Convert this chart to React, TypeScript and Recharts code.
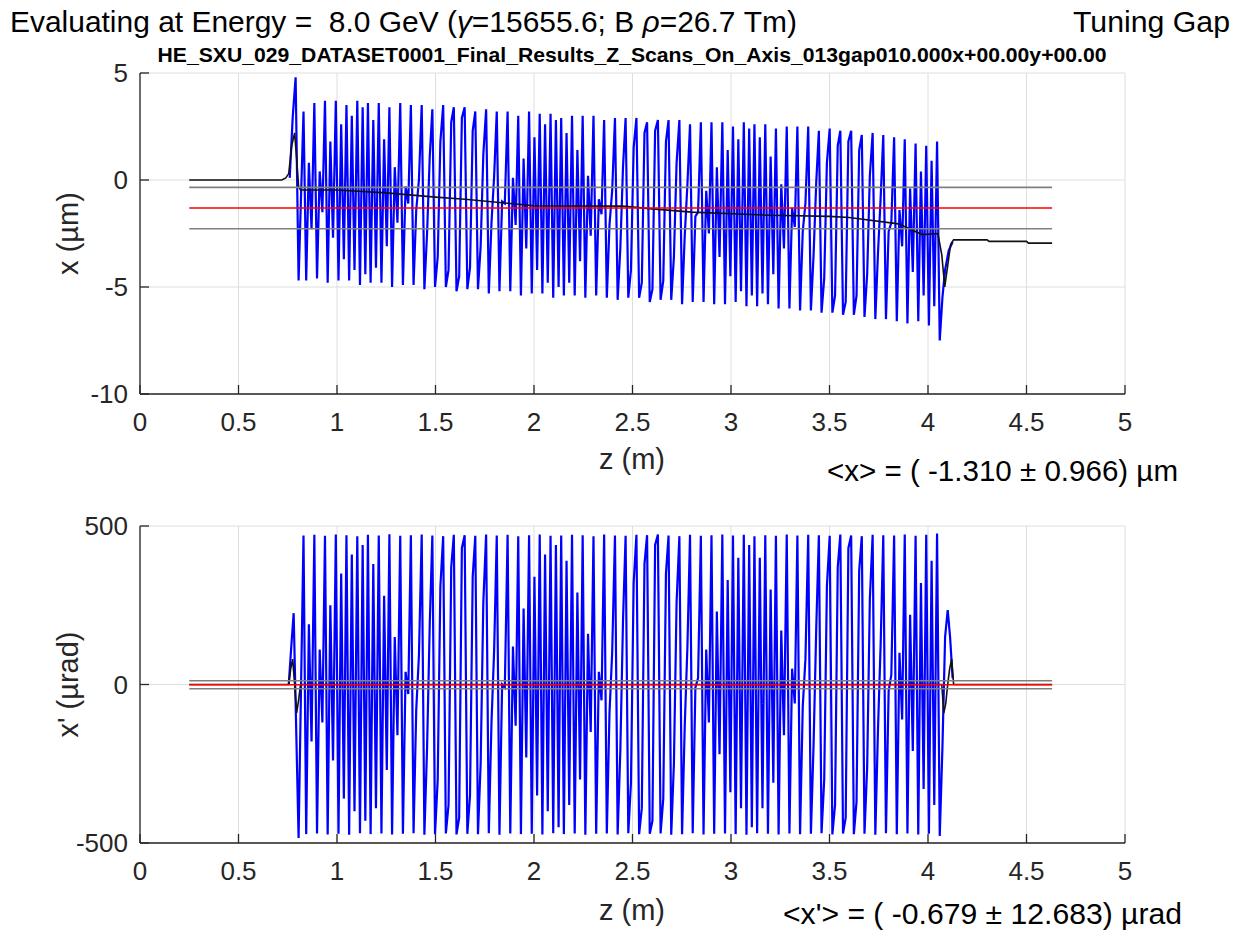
import { LineChart, Line, XAxis, YAxis, CartesianGrid } from 'recharts'

// axis ticks
const zTicks = [0, 0.5, 1, 1.5, 2, 2.5, 3, 3.5, 4, 4.5, 5]
const xTicks = [-10, -5, 0, 5]
const xpTicks = [-500, 0, 500]

// scan: one crest per period, then 3 more samples (trough, two aliased samples) spaced by the scan step
const scanStep = 0.0136
const zCrest = [
  0.83, 0.885, 0.939, 0.994, 1.048, 1.103, 1.157, 1.212, 1.266, 1.321, 1.375, 1.43, 1.484, 1.539, 1.593,
  1.648, 1.702, 1.757, 1.811, 1.866, 1.92, 1.975, 2.029, 2.084, 2.138, 2.193, 2.247, 2.302, 2.356, 2.411,
  2.465, 2.52, 2.574, 2.629, 2.683, 2.738, 2.792, 2.847, 2.901, 2.956, 3.01, 3.065, 3.119, 3.174, 3.228,
  3.283, 3.337, 3.392, 3.446, 3.501, 3.555, 3.61, 3.664, 3.719, 3.773, 3.828, 3.882, 3.937, 3.991, 4.046,
]

// x (um)
const xCrest = [
  3.2, 3.6, 3.7, 3.7, 3.5, 3.7, 3.6, 3.6, 3.4, 3.6, 3.5, 3.5, 3.3, 3.5, 3.4, 3.4, 3.2, 3.3, 3.2, 3.2,
  3.0, 3.2, 3.1, 3.1, 2.9, 3.0, 3.0, 3.0, 2.8, 2.9, 2.9, 2.9, 2.7, 2.8, 2.8, 2.8, 2.6, 2.7, 2.7, 2.7,
  2.5, 2.7, 2.6, 2.6, 2.4, 2.5, 2.5, 2.5, 2.3, 2.4, 2.3, 2.3, 2.1, 2.2, 2.1, 2.0, 1.9, 1.7, 1.6, 1.8,
]
const xTrough = [
  -4.7, -4.6, -4.8, -4.7, -4.7, -4.9, -4.8, -4.8, -5.0, -4.9, -4.9, -5.1, -5.0, -5.0, -5.2, -5.1, -5.1, -5.3, -5.2, -5.2,
  -5.4, -5.3, -5.3, -5.5, -5.4, -5.4, -5.5, -5.4, -5.5, -5.6, -5.5, -5.5, -5.7, -5.6, -5.6, -5.8, -5.7, -5.7, -5.8, -5.8,
  -5.7, -5.9, -5.9, -5.8, -6.0, -6.0, -6.1, -6.1, -6.2, -6.2, -6.3, -6.3, -6.4, -6.5, -6.5, -6.6, -6.7, -6.6, -6.8, -7.5,
]
const xAliasA = [
  0.8, 0.4, 1.8, 2.6, 3.0, 3.4, 2.8, 1.9, 0.6, -0.3, -1.4, -2.5, -3.6, -4.2, -4.5, -4.1, -3.1, -2.0, -1.0, 0.1,
  1.0, 2.0, 2.6, 2.8, 2.2, 1.4, 0.2, -0.9, -2.1, -3.2, -4.2, -4.8, -5.1, -4.7, -3.6, -2.6, -1.7, -0.5, 0.6, 1.4,
  1.9, 2.4, 2.0, 1.1, -0.2, -1.3, -2.4, -3.5, -4.6, -5.4, -5.7, -5.4, -4.4, -3.4, -2.4, -1.4, -0.4, 0.4, 0.9, -5.5,
]
const xAliasB = [
  -2.3, -1.5, -2.7, -3.7, -4.2, -4.4, -4.1, -3.1, -2.0, -1.1, 0.0, 1.1, 1.8, 2.7, 2.9, 2.3, 1.2, 0.2, -1.1, -2.1,
  -3.2, -4.2, -4.8, -5.0, -4.8, -3.8, -2.6, -1.6, -0.5, 0.6, 1.5, 2.2, 2.3, 1.8, 0.8, -0.2, -1.5, -2.5, -3.6, -4.5,
  -5.2, -5.4, -5.3, -4.4, -3.2, -2.2, -1.1, -0.1, 0.8, 1.6, 1.8, 1.4, 0.2, -0.8, -2.0, -3.1, -4.3, -5.4, -5.9, -4.2,
]
const xHeadZ = [0.76, 0.775, 0.79, 0.805]
const xHead = [0.1, 2.9, 4.8, -4.7]
const xTailZ = [4.105, 4.125]
const xTail = [-3.3, -2.9]

// x' (urad)
const xpCrest = [
  470, 472, 469, 473, 471, 468, 472, 470, 474, 469, 471, 473, 470, 468, 472, 471, 469, 473, 470, 472,
  468, 471, 473, 469, 470, 472, 471, 468, 473, 470, 469, 472, 471, 473, 470, 468, 472, 469, 471, 473,
  470, 472, 468, 471, 469, 473, 470, 472, 471, 469, 473, 470, 468, 472, 471, 470, 473, 469, 472, 476,
]
const xpTrough = [
  -472, -470, -473, -471, -474, -469, -472, -470, -473, -471, -469, -474, -472, -470, -473, -471, -472, -469, -474, -470,
  -472, -471, -473, -469, -472, -470, -474, -471, -470, -473, -469, -472, -471, -470, -474, -472, -469, -473, -471, -470,
  -472, -474, -469, -471, -473, -470, -472, -471, -469, -473, -470, -472, -471, -474, -469, -472, -470, -473, -471, -478,
]
const xpAliasA = [
  190, 110, 250, 350, 410, 440, 380, 280, 150, 40, -80, -200, -300, -380, -420, -350, -250, -120, 0, 120,
  240, 340, 410, 440, 390, 290, 160, 40, -90, -210, -310, -390, -430, -360, -250, -130, -10, 110, 230, 330,
  400, 440, 400, 300, 170, 50, -70, -190, -300, -380, -420, -370, -260, -140, -20, 100, 220, 320, 390, -200,
]
const xpAliasB = [
  -180, -120, -240, -360, -400, -430, -390, -270, -160, -30, 90, 190, 310, 370, 430, 340, 260, 110, -10, -130,
  -230, -350, -400, -450, -380, -300, -150, -50, 100, 200, 320, 380, 440, 350, 260, 120, 20, -120, -220, -340,
  -390, -450, -390, -310, -160, -60, 80, 180, 310, 370, 430, 360, 270, 130, 30, -110, -210, -330, -380, 150,
]
const xpHeadZ = [0.755, 0.768, 0.78, 0.805]
const xpHead = [0, 120, 225, -484]
const xpTailZ = [4.1, 4.112, 4.125]
const xpTail = [235, 150, 20]

// running mean (black)
const xTrackZ = [
  0.25, 0.72, 0.74, 0.755, 0.77, 0.785, 0.795, 0.805, 0.815, 1.0, 1.25, 1.5, 1.65, 2.0, 2.45, 2.6, 2.8, 3.2, 3.5,
  3.6, 3.85, 3.97, 4.05, 4.07, 4.085, 4.1, 4.115, 4.13, 4.3, 4.31, 4.5, 4.51, 4.63,
]
const xTrack = [
  0, 0, 0.1, 0.3, 1.6, 2.2, 1.0, -0.3, -0.47, -0.47, -0.6, -0.8, -0.9, -1.2, -1.22, -1.35, -1.5, -1.65, -1.7,
  -1.75, -2.05, -2.55, -2.5, -3.5, -5.0, -4.0, -3.0, -2.8, -2.8, -2.87, -2.87, -2.95, -2.95,
]
const xpTrackZ = [0.25, 0.755, 0.765, 0.775, 0.785, 0.795, 0.805, 0.815, 4.07, 4.08, 4.09, 4.1, 4.11, 4.12, 4.13, 4.63]
const xpTrack = [0, 0, 50, 80, 0, -90, -50, 0, 0, -90, -60, 0, 50, 80, 0, 0]

// statistics
const zSpan = [0.25, 4.63]
const xMean = -1.31
const xStd = 0.966
const xpMean = -0.679
const xpStd = 12.683

type Pt = { z: number; v: number }
const pts = (zs: number[], vs: number[]): Pt[] => zs.map((z, i) => ({ z, v: vs[i] }))
const wave = (crest: number[], trough: number[], a: number[], b: number[]): Pt[] =>
  zCrest.flatMap((z, i) => [
    { z, v: crest[i] },
    { z: z + scanStep, v: trough[i] },
    { z: z + 2 * scanStep, v: a[i] },
    { z: z + 3 * scanStep, v: b[i] },
  ])
const flat = (v: number): Pt[] => zSpan.map((z) => ({ z, v }))

const topBlue = [...pts(xHeadZ, xHead), ...wave(xCrest, xTrough, xAliasA, xAliasB), ...pts(xTailZ, xTail)]
const botBlue = [...pts(xpHeadZ, xpHead), ...wave(xpCrest, xpTrough, xpAliasA, xpAliasB), ...pts(xpTailZ, xpTail)]

const FONT = '"Liberation Sans", Arial, Helvetica, sans-serif'
const AXIS = '#262626'
const tickStyle = { fill: AXIS, fontSize: 26, fontFamily: FONT }

function Panel({
  top,
  height,
  margin,
  domain,
  yTicks,
  blue,
  track,
  mean,
  std,
}: {
  top: number
  height: number
  margin: { top: number; right: number; bottom: number; left: number }
  domain: [number, number]
  yTicks: number[]
  blue: Pt[]
  track: Pt[]
  mean: number
  std: number
}) {
  return (
    <div style={{ position: 'absolute', left: 0, top }}>
      <LineChart width={1248} height={height} margin={margin}>
        <CartesianGrid stroke="#dedede" strokeWidth={1} />
        <XAxis
          dataKey="z"
          type="number"
          domain={[0, 5]}
          ticks={zTicks}
          interval={0}
          allowDataOverflow
          height={40}
          tickSize={-9}
          tickMargin={28}
          tick={tickStyle}
          stroke={AXIS}
          strokeWidth={1.3}
        />
        <XAxis
          xAxisId="top"
          orientation="top"
          type="number"
          domain={[0, 5]}
          ticks={zTicks}
          interval={0}
          allowDataOverflow
          height={0}
          tickSize={-9}
          tickFormatter={() => ''}
          stroke={AXIS}
          strokeWidth={1.3}
        />
        <YAxis
          type="number"
          domain={domain}
          ticks={yTicks}
          interval={0}
          allowDataOverflow
          width={60}
          tickSize={-9}
          tickMargin={21}
          tick={tickStyle}
          stroke={AXIS}
          strokeWidth={1.3}
        />
        <YAxis
          yAxisId="right"
          orientation="right"
          type="number"
          domain={domain}
          ticks={yTicks}
          interval={0}
          allowDataOverflow
          width={0}
          tickSize={-9}
          tickFormatter={() => ''}
          stroke={AXIS}
          strokeWidth={1.3}
        />
        <Line data={blue} dataKey="v" stroke="#0000ff" strokeWidth={2.2} dot={false} isAnimationActive={false} />
        <Line data={track} dataKey="v" stroke="#111111" strokeWidth={1.6} dot={false} isAnimationActive={false} />
        <Line data={flat(mean + std)} dataKey="v" stroke="#808080" strokeWidth={1.6} dot={false} isAnimationActive={false} />
        <Line data={flat(mean - std)} dataKey="v" stroke="#808080" strokeWidth={1.6} dot={false} isAnimationActive={false} />
        <Line data={flat(mean)} dataKey="v" stroke="#ff0000" strokeWidth={1.6} dot={false} isAnimationActive={false} />
      </LineChart>
    </div>
  )
}

export default function App() {
  const txt = { fontFamily: FONT, fill: '#000', whiteSpace: 'pre' as const }
  return (
    <div style={{ position: 'absolute', left: 0, top: 0, width: 1248, height: 937, background: '#fff', overflow: 'hidden' }}>
      <Panel
        top={0}
        height={480}
        margin={{ top: 73, right: 123, bottom: 46, left: 80 }}
        domain={[-10, 5]}
        yTicks={xTicks}
        blue={topBlue}
        track={pts(xTrackZ, xTrack)}
        mean={xMean}
        std={xStd}
      />
      <Panel
        top={470}
        height={467}
        margin={{ top: 56, right: 123, bottom: 54, left: 80 }}
        domain={[-500, 500]}
        yTicks={xpTicks}
        blue={botBlue}
        track={pts(xpTrackZ, xpTrack)}
        mean={xpMean}
        std={xpStd}
      />
      <svg width={1248} height={937} style={{ position: 'absolute', left: 0, top: 0, pointerEvents: 'none' }}>
        <text x={10} y={32} fontSize={29} textLength={787} lengthAdjust="spacingAndGlyphs" style={txt}>
          {'Evaluating at Energy =  8.0 GeV ('}
          <tspan fontStyle="italic">γ</tspan>
          {'=15655.6; B '}
          <tspan fontStyle="italic">ρ</tspan>
          {'=26.7 Tm)'}
        </text>
        <text x={1073} y={32} fontSize={29} textLength={157} lengthAdjust="spacingAndGlyphs" style={txt}>
          Tuning Gap
        </text>
        <text
          x={632}
          y={62}
          fontSize={21}
          fontWeight="bold"
          textAnchor="middle"
          textLength={949}
          lengthAdjust="spacingAndGlyphs"
          style={txt}
        >
          HE_SXU_029_DATASET0001_Final_Results_Z_Scans_On_Axis_013gap010.000x+00.00y+00.00
        </text>
        <text transform="translate(78,233.5) rotate(-90)" fontSize={29} textAnchor="middle" style={{ ...txt, fill: AXIS }}>
          x (µm)
        </text>
        <text transform="translate(78,684.5) rotate(-90)" fontSize={29} textAnchor="middle" style={{ ...txt, fill: AXIS }}>
          x' (µrad)
        </text>
        <text x={632} y={469} fontSize={29} textAnchor="middle" style={{ ...txt, fill: AXIS }}>
          z (m)
        </text>
        <text x={632} y={920} fontSize={29} textAnchor="middle" style={{ ...txt, fill: AXIS }}>
          z (m)
        </text>
        <text x={827} y={481} fontSize={29} textLength={351} lengthAdjust="spacingAndGlyphs" style={txt}>
          {'<x> = ( -1.310 ± 0.966) µm'}
        </text>
        <text x={783} y={924} fontSize={29} textLength={399} lengthAdjust="spacingAndGlyphs" style={txt}>
          {"<x'> = ( -0.679 ± 12.683) µrad"}
        </text>
      </svg>
    </div>
  )
}
